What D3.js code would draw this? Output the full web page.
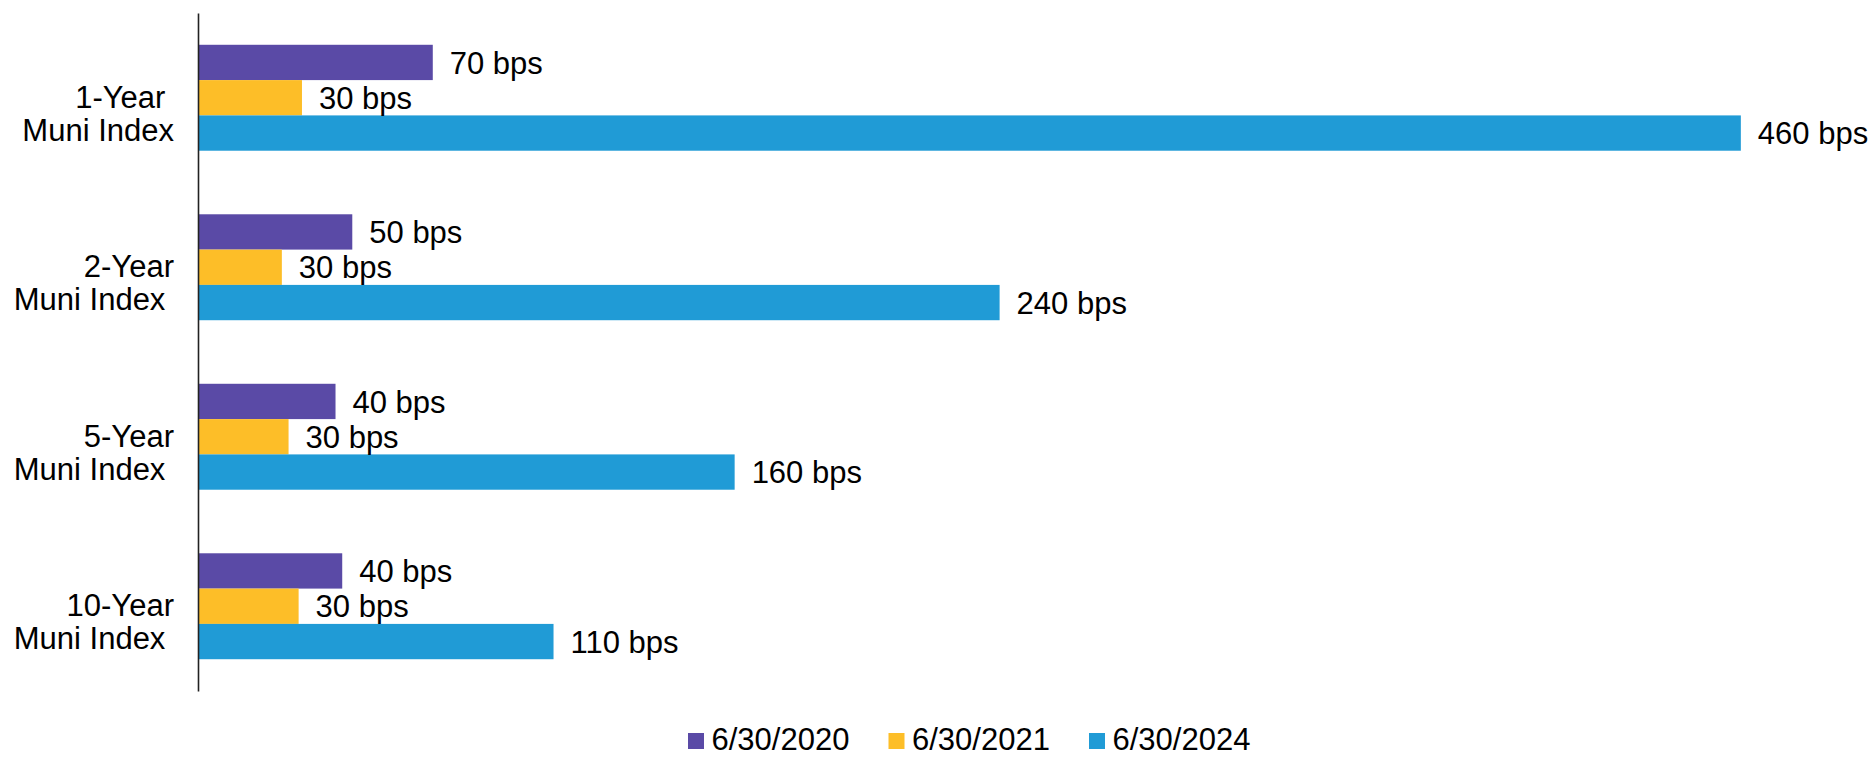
<!DOCTYPE html>
<html>
<head>
<meta charset="utf-8">
<script src="https://cdn.jsdelivr.net/npm/d3@7"></script>
<style>
  html, body { margin: 0; padding: 0; background: #fff; }
  svg { display: block; font-family: 'Liberation Sans', Arial, sans-serif; }
</style>
</head>
<body>
<svg id="chart" width="1876" height="757"></svg>
<script>
// categories (two lines each), series and values
const categories = ['1-Year Muni Index', '2-Year Muni Index', '5-Year Muni Index', '10-Year Muni Index'];
const catLines = [
  ['1-Year\u00a0', 'Muni Index'],
  ['2-Year', 'Muni Index\u00a0'],
  ['5-Year', 'Muni Index\u00a0'],
  ['10-Year', 'Muni Index\u00a0']
];
const seriesNames = ['6/30/2020', '6/30/2021', '6/30/2024'];
const colors = ['#5A4AA6', '#FDBE28', '#209BD6'];
const v2020 = [70, 46, 41, 43];
const v2021 = [31, 25, 27, 30];
const v2024 = [460, 239, 160, 106];
const seriesValues = [v2020, v2021, v2024];

const svg = d3.select('svg#chart');
const fontSize = 31;

// build rows: one per category, with a value per series
const rows = categories.map((c, i) => ({
  cat: c,
  lines: catLines[i],
  vals: seriesNames.map((s, j) => ({ series: s, idx: j, value: seriesValues[j][i] }))
}));

const x = d3.scaleLinear()
  .domain([0, 500])
  .range([198, 1875]);

const y = d3.scaleBand()
  .domain(categories)
  .range([13, 691])
  .paddingInner(0.375)
  .paddingOuter(0.1875);

const ySub = d3.scaleBand()
  .domain(seriesNames)
  .range([0, y.bandwidth()]);

const color = d3.scaleOrdinal().domain(seriesNames).range(colors);

const groups = svg.append('g')
  .selectAll('g')
  .data(rows)
  .enter()
    .append('g')
    .attr('transform', (d) => `translate(0,${y(d.cat)})`);

groups.selectAll('rect')
  .data((d) => d.vals)
  .enter().append('rect')
  .attr('x', x(0))
  .attr('y', (d) => ySub(d.series))
  .attr('width', (d) => x(d.value) - x(0))
  .attr('height', ySub.bandwidth())
  .attr('fill', (d) => color(d.series));

// value labels, rounded to 10 bps like the original
groups.selectAll('text.val')
  .data((d) => d.vals)
  .enter().append('text')
  .attr('class', 'val')
  .attr('x', (d) => x(d.value) + 17)
  .attr('y', (d) => ySub(d.series) + ySub.bandwidth() / 2)
  .attr('dy', '0.36em')
  .style('font-size', fontSize + 'px')
  .attr('fill', '#000')
  .text((d) => `${Math.round(d.value / 10) * 10} bps`);

// axis line only
const axis = svg.append('g')
  .attr('transform', `translate(${x(0)},0)`)
  .call(d3.axisLeft(y).tickSize(0).tickFormat(''));
axis.select('.domain').attr('stroke', '#222').attr('stroke-width', 1.6);

// category labels, two lines, sitting a bit below the group centre
const catLabel = svg.append('g')
  .selectAll('text')
  .data(rows)
  .enter().append('text')
  .attr('text-anchor', 'end')
  .style('font-size', fontSize + 'px')
  .style('white-space', 'pre')
  .attr('fill', '#000');

catLabel.selectAll('tspan')
  .data((d) => d.lines.map((l, k) => ({ l, k, cat: d.cat })))
  .enter().append('tspan')
  .attr('x', x(0) - 24)
  .attr('y', (d) => y(d.cat) + y.bandwidth() / 2 + 10 + d.k * 33)
  .text((d) => d.l);

// legend
const legend = svg.append('g')
  .attr('transform', 'translate(688,733)');

const item = legend.selectAll('g')
  .data(seriesNames)
  .enter().append('g')
  .attr('transform', (d, i) => `translate(${i * 200.5},0)`);

item.append('rect')
  .attr('width', 16)
  .attr('height', 16)
  .attr('fill', (d) => color(d));

item.append('text')
  .attr('x', 23.5)
  .attr('y', 17)
  .style('font-size', fontSize + 'px')
  .attr('fill', '#000')
  .text((d) => d);
</script>
</body>
</html>
